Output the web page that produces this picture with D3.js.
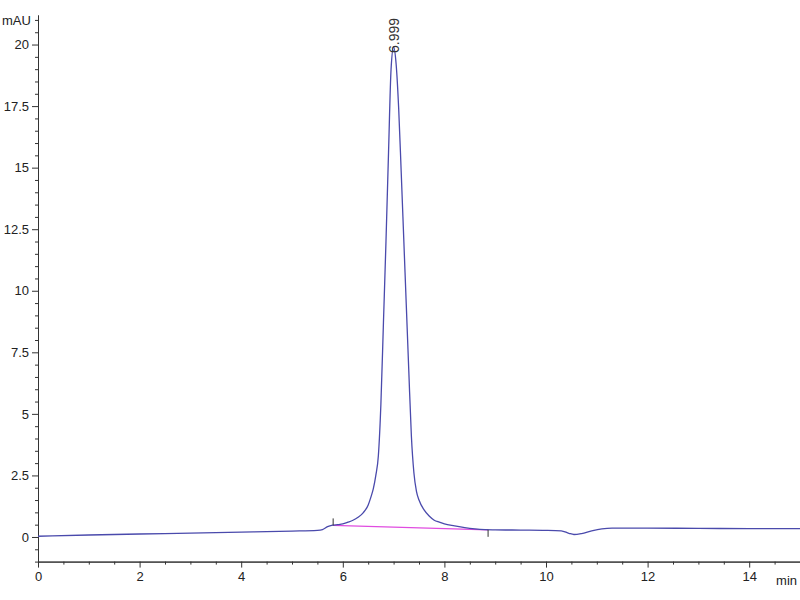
<!DOCTYPE html>
<html>
<head>
<meta charset="utf-8">
<script src="https://cdn.jsdelivr.net/npm/d3@7"></script>
<style>
  html, body { margin: 0; padding: 0; background: #fff; }
  svg { display: block; font-family: "Liberation Sans", Arial, sans-serif; }
</style>
</head>
<body>
<svg id="chart" width="800" height="600"></svg>
<script>
// ---- data ----
const times = [0, 1, 2, 3, 4, 5, 5.5, 5.6, 5.7, 5.8, 5.9, 6.0, 6.1, 6.2, 6.3, 6.4, 6.5, 6.55, 6.6, 6.65, 6.7, 6.75, 6.8, 6.85, 6.9, 6.95, 7.0, 7.05, 7.1, 7.15, 7.2, 7.25, 7.3, 7.35, 7.4, 7.45, 7.5, 7.6, 7.7, 7.8, 7.9, 8.0, 8.2, 8.4, 8.6, 8.8, 9.0, 9.5, 10.0, 10.3, 10.45, 10.55, 10.7, 10.9, 11.1, 11.3, 12, 13, 14, 15];
const signal = [0.03, 0.08, 0.12, 0.16, 0.2, 0.24, 0.27, 0.3, 0.42, 0.48, 0.5, 0.53, 0.6, 0.68, 0.8, 0.98, 1.3, 1.6, 1.95, 2.5, 3.3, 5.4, 8.7, 12.0, 15.6, 19.0, 19.9, 19.2, 17.4, 14.8, 12.1, 9.4, 6.7, 4.1, 2.6, 1.85, 1.5, 1.1, 0.85, 0.68, 0.6, 0.53, 0.45, 0.38, 0.33, 0.3, 0.29, 0.28, 0.27, 0.25, 0.15, 0.1, 0.14, 0.25, 0.33, 0.36, 0.36, 0.35, 0.34, 0.34];
const baselineTimes = [5.81, 8.86];
const baselineValues = [0.47, 0.29];
const peakTime = 6.999;
const peakValue = 19.9;
const peakLabel = "6.999";
const xMajorTicks = [0, 2, 4, 6, 8, 10, 12, 14];
const yMajorTicks = [0, 2.5, 5, 7.5, 10, 12.5, 15, 17.5, 20];
const xUnit = "min";
const yUnit = "mAU";

// ---- layout ----
const svg = d3.select("#chart");
const x = d3.scaleLinear().domain([0, 15]).range([38, 800]);
const y = d3.scaleLinear().domain([-1, 21.2]).range([561.6, 15]);
const axisColor = "#333";

// x axis
const xMinor = d3.range(0, 15.01, 0.5).filter(v => !xMajorTicks.includes(v));
const gx = svg.append("g").attr("transform", `translate(0,${y(-1)})`);
gx.call(d3.axisBottom(x).tickValues(xMinor).tickSize(3).tickFormat("").tickSizeOuter(0));
gx.append("g").call(d3.axisBottom(x).tickValues(xMajorTicks).tickSize(6).tickSizeOuter(0).tickPadding(4).tickFormat(d3.format("d")));
gx.selectAll("path.domain").attr("stroke", axisColor);
gx.selectAll("line").attr("stroke", axisColor);
gx.selectAll("text").attr("font-size", 13).attr("fill", "#222").attr("font-family", "Liberation Sans, Arial, sans-serif");

svg.append("text").attr("x", x(15) - 3).attr("y", 585).attr("text-anchor", "end")
  .attr("font-size", 13).attr("fill", "#222").text(xUnit);

// y axis
const yMinor = d3.range(-1, 21.01, 0.5).filter(v => !yMajorTicks.includes(+v.toFixed(1)));
const gy = svg.append("g").attr("transform", `translate(${x(0)},0)`);
gy.call(d3.axisLeft(y).tickValues(yMinor).tickSize(3).tickFormat("").tickSizeOuter(0));
gy.append("g").call(d3.axisLeft(y).tickValues(yMajorTicks).tickSize(6).tickSizeOuter(0).tickPadding(3).tickFormat(d => String(d)));
gy.selectAll("path.domain").attr("stroke", axisColor);
gy.selectAll("line").attr("stroke", axisColor);
gy.selectAll("text").attr("font-size", 13).attr("fill", "#222").attr("font-family", "Liberation Sans, Arial, sans-serif");

svg.append("text").attr("x", 2).attr("y", 25).attr("font-size", 13).attr("fill", "#222").text(yUnit);

// integration baseline
const bl = baselineTimes.map((t, i) => [t, baselineValues[i]]);
svg.append("path")
  .attr("d", d3.line().x(d => x(d[0])).y(d => y(d[1]))(bl))
  .attr("fill", "none").attr("stroke", "#e04ce0").attr("stroke-width", 1.4);

// signal
const pts = times.map((t, i) => [t, signal[i]]);
svg.append("path")
  .attr("d", d3.line().x(d => x(d[0])).y(d => y(d[1])).curve(d3.curveMonotoneX)(pts))
  .attr("fill", "none").attr("stroke", "#4a4aac").attr("stroke-width", 1.3);

// peak start / end markers
svg.append("line").attr("x1", x(baselineTimes[0])).attr("x2", x(baselineTimes[0]))
  .attr("y1", y(baselineValues[0]) - 7).attr("y2", y(baselineValues[0]))
  .attr("stroke", "#333").attr("stroke-width", 1);
svg.append("line").attr("x1", x(baselineTimes[1])).attr("x2", x(baselineTimes[1]))
  .attr("y1", y(baselineValues[1])).attr("y2", y(baselineValues[1]) + 7)
  .attr("stroke", "#333").attr("stroke-width", 1);

// peak label
svg.append("text")
  .attr("transform", `translate(${x(peakTime) + 5},${y(peakValue) + 6}) rotate(-90)`)
  .attr("font-size", 14).attr("fill", "#333").text(peakLabel);
</script>
</body>
</html>
